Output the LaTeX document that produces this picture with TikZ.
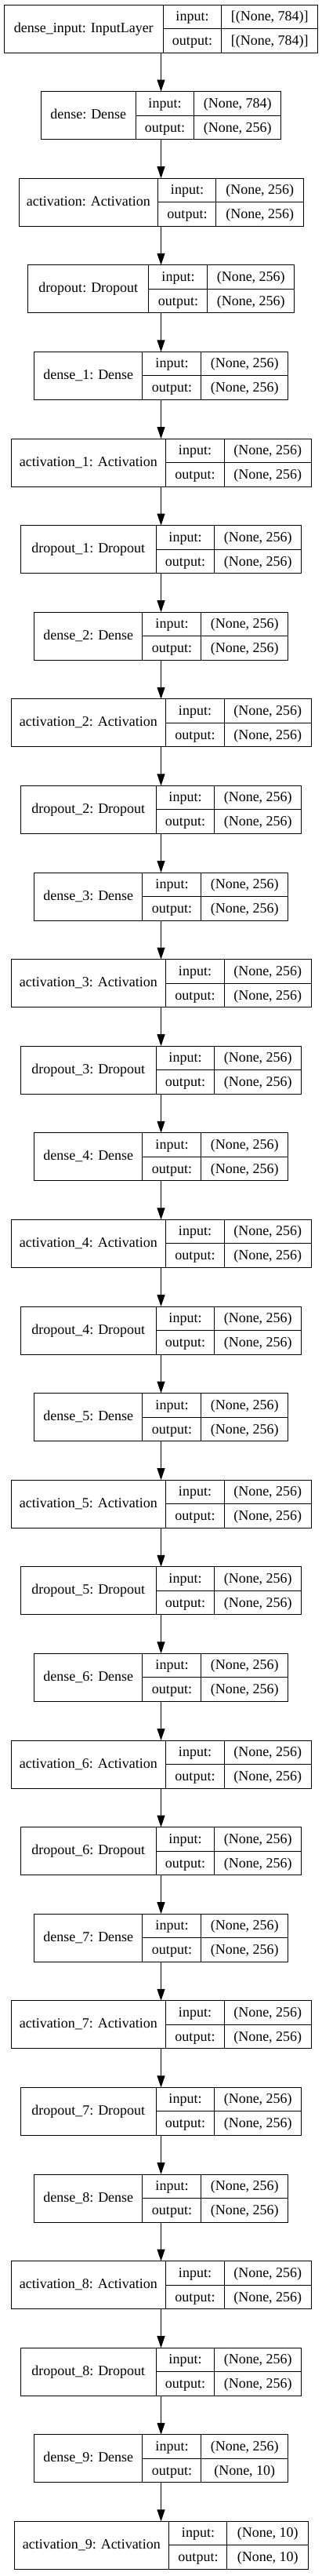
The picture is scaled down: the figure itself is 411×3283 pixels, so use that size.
\documentclass[tikz,border=0pt]{standalone}
\usepackage{fontspec}
\setmainfont{Liberation Serif}
\usepackage{tikz}
\usetikzlibrary{arrows.meta, positioning}

\newlength{\pxu}
\setlength{\pxu}{0.5pt}
\setlength{\tabcolsep}{0pt}
\setlength{\arrayrulewidth}{0.5pt}
\newcommand{\rowstrut}{\rule[-4.8pt]{0pt}{15pt}}
% record: name, name width, value width, input shape, output shape
\newcommand{\kerasrec}[5]{%
  \begin{tabular}{@{}c@{}|@{}c@{}}
    \makebox[#2\pxu]{#1} &
    \begin{tabular}{@{}c@{}|@{}c@{}}
      \makebox[74\pxu]{input:}\rowstrut & \makebox[#3\pxu]{#4}\\ \hline
      \makebox[74\pxu]{output:}\rowstrut & \makebox[#3\pxu]{#5}
    \end{tabular}
  \end{tabular}}

\begin{document}
\begin{tikzpicture}[
      x=0.5pt, y=-0.5pt,
      >={Triangle[length=7.5pt, width=5pt]},
      node distance=24.8pt,
      layer/.style={
        rectangle, draw, line width=0.5pt, inner sep=0pt, outer sep=0pt,
        font=\fontsize{9pt}{10.8pt}\selectfont
      }
    ]
    \useasboundingbox (0,0) rectangle (411,3283);

    \node[layer, anchor=north] (inp) at (205.5,6) {\kerasrec{dense\_input: InputLayer}{202.5}{122.5}{[(None, 784)]}{[(None, 784)]}};
    \node[layer, below=of inp] (d0) {\kerasrec{dense: Dense}{120.5}{110.5}{(None, 784)}{(None, 256)}};
    \node[layer, below=of d0]  (a0) {\kerasrec{activation: Activation}{177.5}{110.5}{(None, 256)}{(None, 256)}};
    \node[layer, below=of a0]  (p0) {\kerasrec{dropout: Dropout}{154.5}{110.5}{(None, 256)}{(None, 256)}};
    \node[layer, below=of p0]  (d1) {\kerasrec{dense\_1: Dense}{138.5}{110.5}{(None, 256)}{(None, 256)}};
    \node[layer, below=of d1]  (a1) {\kerasrec{activation\_1: Activation}{197.5}{110.5}{(None, 256)}{(None, 256)}};
    \node[layer, below=of a1]  (p1) {\kerasrec{dropout\_1: Dropout}{172.5}{110.5}{(None, 256)}{(None, 256)}};
    \node[layer, below=of p1]  (d2) {\kerasrec{dense\_2: Dense}{138.5}{110.5}{(None, 256)}{(None, 256)}};
    \node[layer, below=of d2]  (a2) {\kerasrec{activation\_2: Activation}{197.5}{110.5}{(None, 256)}{(None, 256)}};
    \node[layer, below=of a2]  (p2) {\kerasrec{dropout\_2: Dropout}{172.5}{110.5}{(None, 256)}{(None, 256)}};
    \node[layer, below=of p2]  (d3) {\kerasrec{dense\_3: Dense}{138.5}{110.5}{(None, 256)}{(None, 256)}};
    \node[layer, below=of d3]  (a3) {\kerasrec{activation\_3: Activation}{197.5}{110.5}{(None, 256)}{(None, 256)}};
    \node[layer, below=of a3]  (p3) {\kerasrec{dropout\_3: Dropout}{172.5}{110.5}{(None, 256)}{(None, 256)}};
    \node[layer, below=of p3]  (d4) {\kerasrec{dense\_4: Dense}{138.5}{110.5}{(None, 256)}{(None, 256)}};
    \node[layer, below=of d4]  (a4) {\kerasrec{activation\_4: Activation}{197.5}{110.5}{(None, 256)}{(None, 256)}};
    \node[layer, below=of a4]  (p4) {\kerasrec{dropout\_4: Dropout}{172.5}{110.5}{(None, 256)}{(None, 256)}};
    \node[layer, below=of p4]  (d5) {\kerasrec{dense\_5: Dense}{138.5}{110.5}{(None, 256)}{(None, 256)}};
    \node[layer, below=of d5]  (a5) {\kerasrec{activation\_5: Activation}{197.5}{110.5}{(None, 256)}{(None, 256)}};
    \node[layer, below=of a5]  (p5) {\kerasrec{dropout\_5: Dropout}{172.5}{110.5}{(None, 256)}{(None, 256)}};
    \node[layer, below=of p5]  (d6) {\kerasrec{dense\_6: Dense}{138.5}{110.5}{(None, 256)}{(None, 256)}};
    \node[layer, below=of d6]  (a6) {\kerasrec{activation\_6: Activation}{197.5}{110.5}{(None, 256)}{(None, 256)}};
    \node[layer, below=of a6]  (p6) {\kerasrec{dropout\_6: Dropout}{172.5}{110.5}{(None, 256)}{(None, 256)}};
    \node[layer, below=of p6]  (d7) {\kerasrec{dense\_7: Dense}{138.5}{110.5}{(None, 256)}{(None, 256)}};
    \node[layer, below=of d7]  (a7) {\kerasrec{activation\_7: Activation}{197.5}{110.5}{(None, 256)}{(None, 256)}};
    \node[layer, below=of a7]  (p7) {\kerasrec{dropout\_7: Dropout}{172.5}{110.5}{(None, 256)}{(None, 256)}};
    \node[layer, below=of p7]  (d8) {\kerasrec{dense\_8: Dense}{138.5}{110.5}{(None, 256)}{(None, 256)}};
    \node[layer, below=of d8]  (a8) {\kerasrec{activation\_8: Activation}{197.5}{110.5}{(None, 256)}{(None, 256)}};
    \node[layer, below=of a8]  (p8) {\kerasrec{dropout\_8: Dropout}{172.5}{110.5}{(None, 256)}{(None, 256)}};
    \node[layer, below=of p8]  (d9) {\kerasrec{dense\_9: Dense}{138.5}{110.5}{(None, 256)}{(None, 10)}};
    \node[layer, below=of d9]  (a9) {\kerasrec{activation\_9: Activation}{197.5}{102.5}{(None, 10)}{(None, 10)}};

    \foreach \a/\b in {inp/d0, d0/a0, a0/p0, p0/d1, d1/a1, a1/p1, p1/d2, d2/a2, a2/p2,
                       p2/d3, d3/a3, a3/p3, p3/d4, d4/a4, a4/p4, p4/d5, d5/a5, a5/p5,
                       p5/d6, d6/a6, a6/p6, p6/d7, d7/a7, a7/p7, p7/d8, d8/a8, a8/p8,
                       p8/d9, d9/a9}
      \draw[->, line width=0.5pt] (\a) -- (\b);
  \end{tikzpicture}
\end{document}
